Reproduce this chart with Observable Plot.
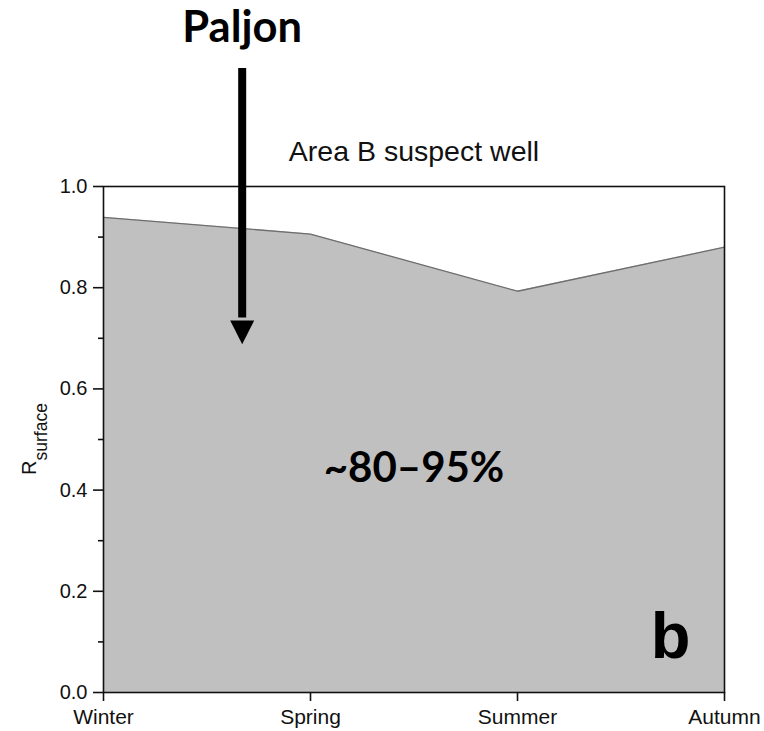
<!DOCTYPE html>
<html>
<head>
<meta charset="utf-8">
<script src="https://cdn.jsdelivr.net/npm/d3@7"></script>
<script src="https://cdn.jsdelivr.net/npm/@observablehq/plot@0.6"></script>
<style>
  html, body { margin: 0; padding: 0; background: #fff; }
  svg { display: block; }
</style>
</head>
<body>
<div id="chart"></div>
<script>
// Data
const seasons = ["Winter", "Spring", "Summer", "Autumn"];
const rSurface = [0.939, 0.906, 0.793, 0.880];
const yMajorTicks = [0, 0.2, 0.4, 0.6, 0.8, 1.0];
const yMinorTicks = [0.1, 0.3, 0.5, 0.7, 0.9];
const title = "Area B suspect well";
const annotationWord = "Paljon";
const rangeLabel = "~80–95%";
const panelLabel = "b";

const data = seasons.map((s, i) => ({i, season: s, value: rSurface[i]}));

// Arrow annotation (in data units: x as season index, y as R)
const arrowX = 0.67;
const arrowTop = 1.233;
const arrowHeadBase = 0.735;
const arrowTip = 0.688;
const arrowHalfWidth = 0.058;
const arrowHead = [
  {x: arrowX - arrowHalfWidth, y: arrowHeadBase},
  {x: arrowX + arrowHalfWidth, y: arrowHeadBase},
  {x: arrowX, y: arrowTip},
  {x: arrowX - arrowHalfWidth, y: arrowHeadBase}
];

const sans = "'Liberation Sans', Arial, Helvetica, sans-serif";
const calib = "Lato, 'Open Sans', sans-serif";

const chart = Plot.plot({
  width: 764,
  height: 731,
  marginLeft: 103,
  marginRight: 40,
  marginTop: 186,
  marginBottom: 39,
  style: {fontFamily: sans, color: "#111", background: "#fff", overflow: "visible"},
  x: {type: "linear", domain: [0, seasons.length - 1]},
  y: {domain: [0, 1]},
  marks: [
    Plot.areaY(data, {x: "i", y: "value", fill: "#c0c0c0"}),
    Plot.lineY(data, {x: "i", y: "value", stroke: "#6e6e6e", strokeWidth: 1.3}),
    Plot.frame({stroke: "#111", strokeWidth: 1.6}),
    Plot.axisY(yMajorTicks, {tickSize: 10, tickPadding: 6, tickFormat: d => d.toFixed(1), fontSize: 20, strokeWidth: 1.6, label: null}),
    Plot.axisY(yMinorTicks, {tickSize: 5, tickFormat: () => "", strokeWidth: 1.6, label: null}),
    Plot.axisX(seasons.map((s, i) => i), {tickSize: 9, tickPadding: 8, tickFormat: i => seasons[i], fontSize: 21, strokeWidth: 1.6, label: null}),
    // title
    Plot.text([title], {x: (seasons.length - 1) / 2, y: 1.05, text: d => d, fontSize: 28.5, lineAnchor: "bottom", fill: "#111", clip: false}),
    // arrow
    Plot.ruleX([arrowX], {y1: arrowHeadBase + 0.005, y2: arrowTop, stroke: "black", strokeWidth: 8, clip: false}),
    Plot.line(arrowHead, {x: "x", y: "y", fill: "black", stroke: "none", clip: false}),
    // Paljon
    Plot.text([annotationWord], {x: arrowX, y: 1.286, text: d => d, fontSize: 43.5, fontWeight: "bold", fontFamily: calib, lineAnchor: "bottom", fill: "black", clip: false}),
    // range label
    Plot.text([rangeLabel], {x: (seasons.length - 1) / 2, y: 0.416, text: d => d, fontSize: 42, fontWeight: "bold", fontFamily: calib, lineAnchor: "bottom", fill: "black"}),
    // panel label
    Plot.text([panelLabel], {x: 2.74, y: 0.068, text: d => d, fontSize: 65, fontWeight: "bold", lineAnchor: "bottom", fill: "black"})
  ]
});

// y-axis label with subscript
const ys = chart.scale("y");
const svg = d3.select(chart);
const lbl = svg.append("text")
  .attr("transform", `translate(36,${ys.apply(0.5)}) rotate(-90)`)
  .attr("text-anchor", "middle")
  .style("font-family", sans)
  .attr("fill", "#111");
lbl.append("tspan").style("font-size", "20px").text("R");
lbl.append("tspan").style("font-size", "17.5px").attr("dy", 11).text("surface");

document.getElementById("chart").appendChild(chart);
</script>
</body>
</html>
